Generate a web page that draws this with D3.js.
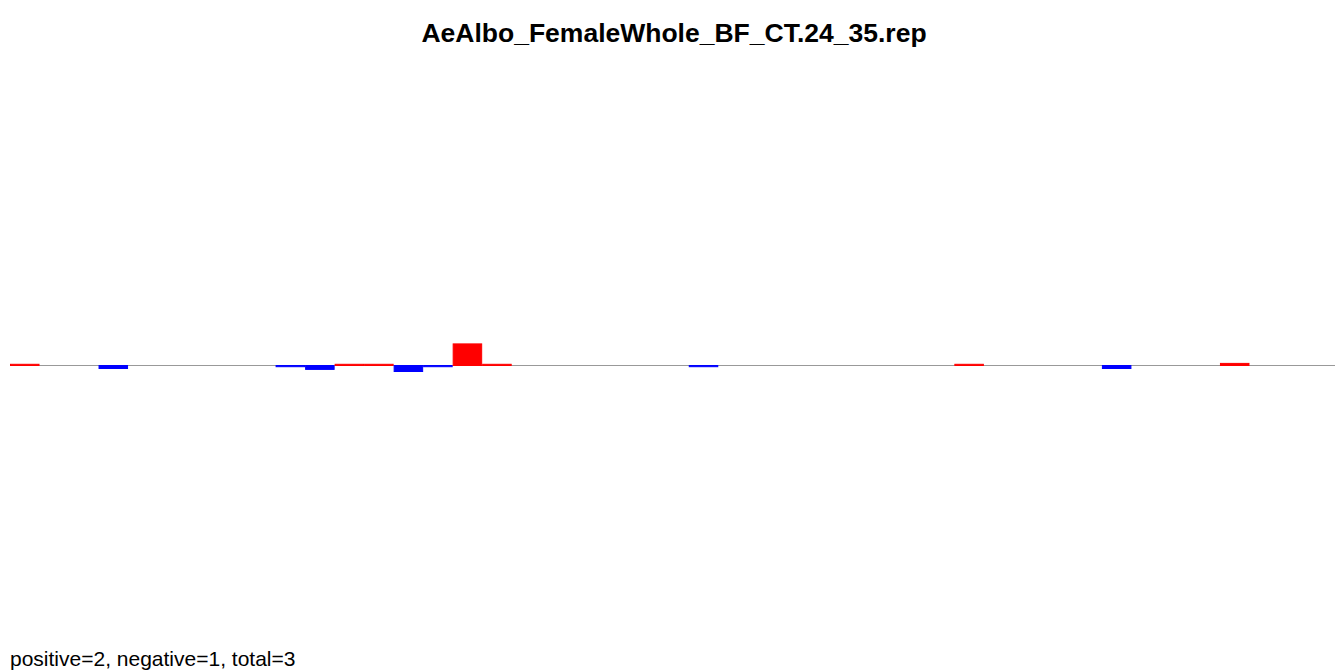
<!DOCTYPE html>
<html><head><meta charset="utf-8">
<script src="https://cdn.jsdelivr.net/npm/d3@7"></script>
<style>body{margin:0;background:#fff;overflow:hidden}svg{display:block}text{font-family:"Liberation Sans",Arial,sans-serif}</style>
</head><body><svg id="c" width="1335" height="671"></svg>
<script>
const title = "AeAlbo_FemaleWhole_BF_CT.24_35.rep";
const footer = "positive=2, negative=1, total=3";
const bins = d3.range(1, 46);
const binIndex = [0, 3, 9, 10, 11, 12, 13, 14, 15, 16, 23, 32, 37, 41];
const values = [0.4, -1.0, -0.4, -1.3, 0.4, 0.4, -2.0, -0.4, 7.2, 0.4, -0.4, 0.4, -1.0, 0.7];

const svg = d3.select("#c");
const x = d3.scaleBand().domain(bins).range([10, 1338]).padding(0);
const y = d3.scaleLinear().domain([-100, 100]).range([665.5, 65.5]);

svg.append("line").attr("x1", 10).attr("x2", 1335).attr("y1", y(0)).attr("y2", y(0))
  .attr("stroke", "#999").attr("stroke-width", 1);

const data = binIndex.map((b, i) => ({bin: bins[b], v: values[i]}));
svg.selectAll("rect.bar").data(data).enter().append("rect").attr("class", "bar")
  .attr("x", d => x(d.bin) + 0.5)
  .attr("width", x.bandwidth() - 1)
  .attr("y", d => Math.min(y(d.v), y(0)))
  .attr("height", d => Math.abs(y(d.v) - y(0)))
  .attr("fill", d => d.v > 0 ? "#ff0000" : "#0000ff")
  .attr("stroke", d => d.v > 0 ? "#ff0000" : "#0000ff")
  .attr("stroke-width", 1);

svg.append("text").attr("x", 674).attr("y", 42).attr("text-anchor", "middle")
  .attr("font-weight", "bold").attr("font-size", 26.5).text(title);
svg.append("text").attr("x", 10).attr("y", 666).attr("font-size", 21).text(footer);
</script></body></html>
